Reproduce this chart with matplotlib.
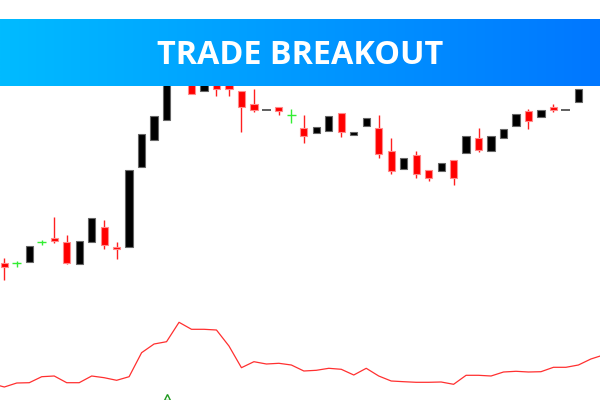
import matplotlib.pyplot as plt
from matplotlib.colors import LinearSegmentedColormap
import numpy as np

# свечи: open, high, low, close
opens  = [37.3, 36.7, 37.7, 57.7, 62.3, 57.7, 36.0, 57.7, 73.3, 53.0,
          53.3, 133.3, 159.7, 180.0, 225.0, 230.0, 209.3, 220.0, 218.0, 209.0,
          196.0, 189.7, 192.7, 185.0, 171.7, 166.7, 169.0, 187.0, 164.7, 174.0,
          171.7, 149.0, 131.0, 145.0, 129.7, 129.3, 140.3, 146.7, 162.0, 149.0,
          162.3, 174.0, 189.3, 182.7, 193.3, 189.7, 198.0]
highs  = [42.0, 39.3, 54.3, 60.0, 82.7, 65.0, 59.0, 81.7, 80.0, 57.7,
          130.0, 166.0, 184.0, 225.0, 250.0, 235.0, 222.0, 225.0, 222.0, 209.0,
          211.0, 189.7, 192.7, 190.7, 185.0, 173.3, 184.0, 187.0, 168.3, 181.7,
          185.0, 161.7, 142.0, 149.0, 129.7, 137.0, 140.3, 164.0, 171.7, 164.0,
          171.0, 186.3, 191.0, 190.0, 196.0, 189.7, 210.7]
lows   = [20.0, 33.3, 37.7, 55.0, 57.3, 35.7, 36.0, 57.7, 51.0, 41.3,
          53.3, 133.3, 159.7, 180.0, 225.0, 206.0, 209.3, 204.3, 204.3, 168.3,
          188.3, 189.7, 184.7, 177.3, 157.3, 166.7, 169.0, 163.3, 164.7, 174.0,
          142.3, 126.3, 131.0, 121.7, 119.3, 129.3, 114.7, 146.7, 148.3, 149.0,
          162.3, 174.0, 171.0, 182.7, 188.3, 189.7, 198.0]
closes = [33.3, 36.7, 54.3, 57.7, 59.3, 36.7, 59.0, 81.7, 55.0, 51.0,
          130.0, 166.0, 184.0, 225.0, 250.0, 206.0, 222.0, 211.0, 211.0, 192.7,
          190.3, 189.7, 189.3, 185.0, 164.0, 173.3, 184.0, 168.3, 168.3, 181.7,
          146.0, 129.0, 142.0, 126.0, 121.7, 137.0, 121.7, 164.0, 150.3, 164.0,
          171.0, 186.3, 179.3, 190.0, 190.3, 189.7, 210.7]
green_doji = [1, 3, 23]
gray_doji = [21, 45]

# индикатор под графиком
ind_values = [16.4, 13.0, 17.0, 17.3, 23.3, 24.0, 17.3, 17.3, 24.0, 22.3, 19.7,
              23.3, 47.3, 56.0, 58.3, 77.7, 70.7, 70.7, 70.0, 54.0, 32.3,
              38.3, 36.0, 36.7, 35.0, 29.0, 29.7, 31.7, 30.7, 25.0, 31.7,
              24.0, 19.0, 18.3, 17.7, 17.7, 18.0, 15.7, 24.7, 24.7, 24.0,
              28.0, 28.7, 28.0, 28.3, 32.7, 32.7, 35.0, 41.0, 45.0]
ind_x = np.arange(-1, len(ind_values) - 1)
signal_idx = [13]
signal_val = [3.3]

title = 'TRADE BREAKOUT'

fig = plt.figure(figsize=(6, 4), dpi=100)
fig.patch.set_facecolor('white')

ax = fig.add_axes([0, 0.25, 1, 0.75])
ax.set_xlim(-0.345, 47.73)
ax.set_ylim(0, 300)
ax.axis('off')

w = 0.58
for i in range(len(opens)):
    o, h, l, c = opens[i], highs[i], lows[i], closes[i]
    if i in green_doji:
        ax.vlines(i, l, h, color='#33ee33', lw=1.0)
        ax.hlines(o, i - 0.36, i + 0.36, color='#33ee33', lw=1.0)
        continue
    if i in gray_doji:
        ax.hlines(o, i - 0.36, i + 0.36, color='#444444', lw=1.2)
        continue
    if c < o:
        ax.vlines(i, l, h, color='#ff2020', lw=1.0, zorder=1)
        ax.bar(i, o - c, bottom=c, width=w, color='#ff0000',
               edgecolor='#ff8a8a', lw=0.8, zorder=2)
    else:
        ax.vlines(i, l, h, color='black', lw=1.0, zorder=1)
        ax.bar(i, c - o, bottom=o, width=w, color='black',
               edgecolor='#666666', lw=0.8, zorder=2)

ax2 = fig.add_axes([0, 0, 1, 0.25])
ax2.set_xlim(-0.345, 47.73)
ax2.set_ylim(0, 100)
ax2.axis('off')
ax2.plot(ind_x, ind_values, color='#ff3030', lw=0.9)
ax2.plot(signal_idx, signal_val, marker='^', ms=4, mfc='none', mec='#1f9a1f',
         mew=1.0, ls='none', clip_on=False)

# шапка с градиентом
axb = fig.add_axes([0, 1 - 86.3 / 400, 1, 67.6 / 400], zorder=10)
grad = np.linspace(0, 1, 256).reshape(1, -1)
cmap = LinearSegmentedColormap.from_list('banner', ['#00bbff', '#0077ff'])
axb.imshow(grad, aspect='auto', cmap=cmap, extent=[0, 1, 0, 1])
axb.set_xlim(0, 1)
axb.set_ylim(0, 1)
axb.axis('off')

fig.text(0.5, 1 - 64.5 / 400, title, color='white', fontsize=23.3,
         fontweight='bold', family='Open Sans', ha='center', va='baseline',
         zorder=11)

plt.savefig('out.png', dpi=100)
